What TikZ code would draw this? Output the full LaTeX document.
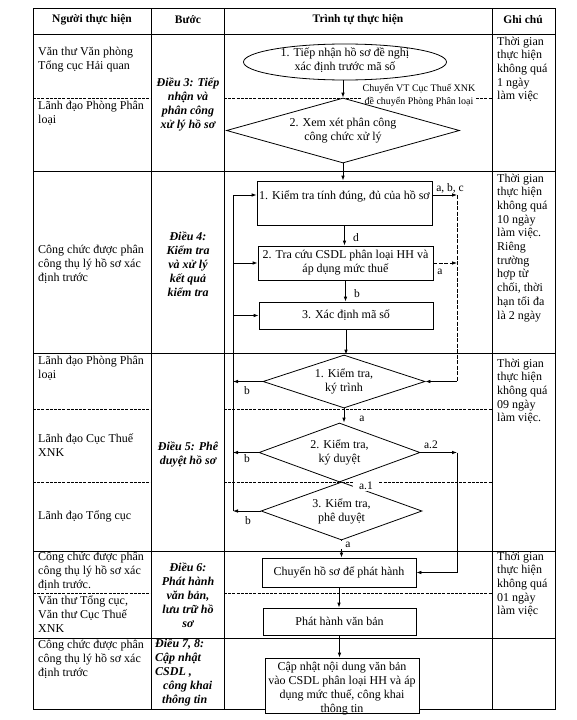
\documentclass[tikz,border=0pt]{standalone}
\usepackage{fontspec}
\setmainfont{Liberation Serif}
\usetikzlibrary{shapes.geometric,arrows.meta}
\begin{document}
\begin{tikzpicture}[x=1pt,y=-1pt,
  ln/.style={line width=0.8pt},
  tgrid/.style={line width=0.7pt},
  sub/.style={line width=0.6pt, dash pattern=on 3pt off 1.2pt},
  fc/.style={font=\fontsize{12}{14}\selectfont},
  box/.style={draw, ln, fill=white, rectangle, inner sep=0pt, align=center, fc},
  dia/.style={draw, ln, fill=white, diamond, inner sep=0pt},
  ell/.style={draw, ln, fill=white, ellipse, inner sep=0pt},
  arr/.style={ln, -{Latex[length=5pt,width=3.6pt]}},
  dasharr/.style={arr, dash pattern=on 4pt off 1.5pt},
  lab/.style={font=\fontsize{11.5}{13}\selectfont, inner sep=1pt},
  who/.style={font=\fontsize{12}{14}\selectfont, align=left, inner sep=0pt},
  stepbox/.style={font=\bfseries\itshape\fontsize{12}{14}\selectfont, align=center, inner sep=0pt},
  notex/.style={font=\fontsize{12}{13.7}\selectfont, align=left, inner sep=0pt, anchor=north west},
  head/.style={font=\bfseries\fontsize{11.5}{13}\selectfont, inner sep=0pt}
]
\useasboundingbox (0,0) rectangle (576,720);

% ---- table grid
\draw[tgrid] (33,8) rectangle (555,709);
\foreach \x in {151,224,492} \draw[tgrid] (\x,8) -- (\x,709);
\foreach \y in {34,171,353,551,638} \draw[tgrid] (33,\y) -- (555,\y);
\foreach \y in {98,409,482,593} {
  \draw[sub] (33,\y) -- (151,\y);
  \draw[sub] (224,\y) -- (492,\y);
}

% ---- header
\node[head] (h1) at (92,20) {Người thực hiện};
\node[head] (h2) at (188,20) {Bước};
\node[head] (h3) at (358,20) {Trình tự thực hiện};
\node[head] (h4) at (523,20) {Ghi chú};

% ---- column 1
\node[who, anchor=north west] (w1) at (38,47) {Văn thư Văn phòng\\Tổng cục Hải quan};
\node[who, anchor=north west] (w2) at (38,101) {Lãnh đạo Phòng Phân\\loại};
\node[who, anchor=west] (w3) at (38,264) {Công chức được phân\\công thụ lý hồ sơ xác\\định trước};
\node[who, anchor=north west] (w4) at (38,356) {Lãnh đạo Phòng Phân\\loại};
\node[who, anchor=west] (w5) at (38,445) {Lãnh đạo Cục Thuế\\XNK};
\node[who, anchor=west] (w6) at (38,516) {Lãnh đạo Tổng cục};
\node[who, anchor=north west] (w7) at (38,551.5) {Công chức được phân\\công thụ lý hồ sơ xác\\định trước.};
\node[who, anchor=north west] (w8) at (38,596) {Văn thư Tổng cục,\\Văn thư Cục Thuế\\XNK};
\node[who, anchor=north west] (w9) at (38,640) {Công chức được phân\\công thụ lý hồ sơ xác\\định trước};

% ---- column 2
\node[stepbox] (s1) at (188,104) {Điều 3: Tiếp\\nhận và\\phân công\\xử lý hồ sơ};
\node[stepbox] (s2) at (188,264) {Điều 4:\\Kiểm tra\\và xử lý\\kết quả\\kiểm tra};
\node[stepbox] (s3) at (188,454) {Điều 5: Phê\\duyệt hồ sơ};
\node[stepbox] (s4) at (188,595) {Điều 6:\\Phát hành\\văn bản,\\lưu trữ hồ\\sơ};
\node[stepbox, align=left, anchor=north west] (s5) at (155,639) {Điều 7, 8:\\Cập nhật\\CSDL ,\\\hspace*{8pt}công khai\\\hspace*{7pt}thông tin};

% ---- column 4
\node[notex] (n1) at (497,36.5) {Thời gian\\thực hiện\\không quá\\1 ngày\\làm việc};
\node[notex] (n2) at (497,173.5) {Thời gian\\thực hiện\\không quá\\10 ngày\\làm việc.\\Riêng\\trường\\hợp từ\\chối, thời\\hạn tối đa\\là 2 ngày};
\node[notex] (n3) at (497,358.5) {Thời gian\\thực hiện\\không quá\\09 ngày\\làm việc.};
\node[notex] (n4) at (497,551.5) {Thời gian\\thực hiện\\không quá\\01 ngày\\làm việc};

% ---- transfer note (drawn before the shapes so their outlines stay on top)
\node[lab, font=\fontsize{10}{13}\selectfont, align=center, fill=white] (tr) at (419,95.5) {Chuyển VT Cục Thuế XNK\\đề chuyển Phòng Phân loại};

% ---- flowchart shapes
\node[ell, minimum width=203, minimum height=36,
  label={[fc, align=center, yshift=1.5pt]center:{1. Tiếp nhận hồ sơ đề nghị\\xác định trước mã số}}] (e1) at (345,62) {};
\node[dia, minimum width=233, minimum height=65,
  label={[fc, align=center]center:{2. Xem xét phân công\\công chức xử lý}}] (d2) at (343,130.5) {};
\node[box, minimum width=175, minimum height=44,
  label={[fc, anchor=north, yshift=-7pt]north:{1. Kiểm tra tính đúng, đủ của hồ sơ}}] (b1) at (344.5,203) {};
\node[box, minimum width=175, minimum height=34] (b2) at (345.5,263) {2. Tra cứu CSDL phân loại HH và\\áp dụng mức thuế};
\node[box, minimum width=174, minimum height=27] (b3) at (346,315.5) {3. Xác định mã số};
\node[dia, minimum width=162, minimum height=53,
  label={[fc, align=center]center:{1. Kiểm tra,\\ký trình}}] (k1) at (344,381.5) {};
\node[dia, minimum width=161, minimum height=59,
  label={[fc, align=center]center:{2. Kiểm tra,\\ký duyệt}}] (k2) at (339.5,452.5) {};
\node[dia, minimum width=161, minimum height=58,
  label={[fc, align=center]center:{3. Kiểm tra,\\phê duyệt}}] (k3) at (341.5,511) {};
\node[box, minimum width=154, minimum height=29] (c1) at (339,572.5) {Chuyển hồ sơ để phát hành};
\node[box, minimum width=153, minimum height=27] (p1) at (339.5,621.5) {Phát hành văn bản};
\node[box, minimum width=154, minimum height=55,
  label={[fc, align=center, yshift=-3pt]center:{Cập nhật nội dung văn bản\\vào CSDL phân loại HH và áp\\dụng mức thuế, công khai\\thông tin}}] (f1) at (342,685.5) {};

% ---- main arrows
\draw[arr] (e1.south -| d2.north) -- (d2.north);
\draw[arr] (d2.south) -- (d2.south |- b1.north);
\draw[arr] (b1.south) -- (b1.south |- b2.north);
\draw[arr] (b2.south) -- (b2.south |- b3.north);
\draw[arr] (b3.south) -- (b3.south |- k1.north);
\draw[arr] (k1.south) -- (k1.south |- k2.north);
\draw[arr] (k3.south) -- (k3.south |- c1.north);
\draw[arr] (c1.south) -- (c1.south |- p1.north);
\draw[arr] (p1.south) -- (p1.south |- f1.north);

% ---- left feedback line
\coordinate (L1) at (233,195);
\coordinate (L2) at (233,263);
\coordinate (L3) at (233,315.5);
\coordinate (L4) at (233,381.5);
\coordinate (L5) at (233,452.5);
\coordinate (L6) at (233,511);
\draw[ln] (L1) -- (L6);
\draw[arr] (L1) -- (L1 -| b1.west);
\draw[arr] (L2) -- (b2.west);
\draw[arr] (L3) -- (b3.west);
\draw[arr] (k1.west) -- (L4);
\draw[arr] (k2.west) -- (L5);
\draw[arr] (k3.west) -- (L6);

% ---- right lines
\coordinate (R1) at (457,195);
\coordinate (R2) at (457,263);
\coordinate (R3) at (457,381.5);
\coordinate (R4) at (457,452.5);
\draw[arr] (b1.east |- R1) -- (R1);
\draw[dasharr] (b2.east) -- (R2);
\draw[ln, dash pattern=on 4pt off 1.5pt] (R1) -- (R3);
\draw[arr] (R3) -- (k1.east);
\draw[arr] (k2.east) -- (R4);
\draw[arr] (R4) |- (c1.east);

% ---- connector labels
\node[lab] (la1) at (450,188) {a, b, c};
\node[lab] (la2) at (440,272) {a};
\node[lab] (ld) at (356,238) {d};
\node[lab] (lb1) at (357,294) {b};
\node[lab] (la3) at (362,419) {a};
\node[lab, fill=white, inner xsep=6pt] (la4) at (366,486) {a.1};
\node[lab] (la5) at (431,445) {a.2};
\node[lab, fill=white, inner xsep=4pt] (la6) at (348,545) {a};
\node[lab] (lb2) at (247,391) {b};
\node[lab] (lb3) at (247,459) {b};
\node[lab] (lb4) at (248,521) {b};
\end{tikzpicture}
\end{document}
